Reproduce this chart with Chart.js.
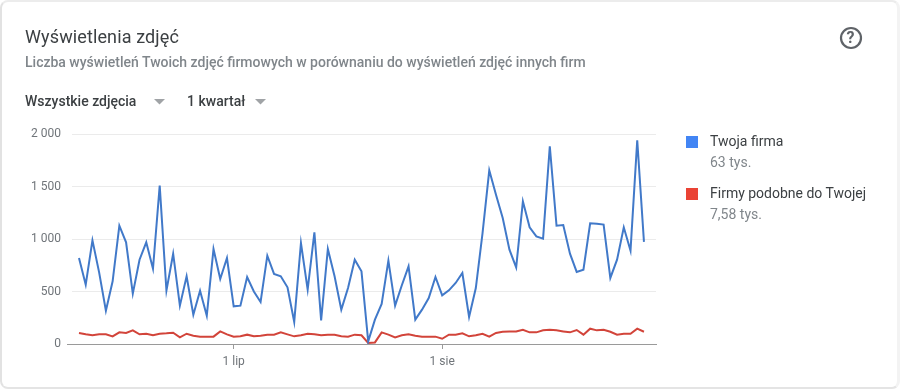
<!DOCTYPE html>
<html lang="pl"><head><meta charset="utf-8">
<style>
html,body{margin:0;padding:0;background:#fff;width:900px;height:389px;overflow:hidden;font-family:Roboto,sans-serif}
#card{position:absolute;left:0;top:0;width:900px;height:389px;box-sizing:border-box;border-style:solid;border-width:2px 3px 2px 2px;border-color:#ececec #f3f3f3 #e4e4e4 #e2e2e2;border-radius:8px}
canvas{position:absolute;left:0;top:0}
.t{position:absolute;white-space:nowrap}
.sq{position:absolute;width:12px;height:12px}
</style>
<script src="https://cdn.jsdelivr.net/npm/chart.js@4"></script>
</head><body>
<div id="card"></div>
<canvas id="c" width="900" height="389"></canvas>
<div class="t" style="left:25px;top:26px;font-size:18px;letter-spacing:.12px;color:#3c4043">Wyświetlenia zdjęć</div>
<div class="t" style="left:25px;top:54px;font-size:14px;font-weight:500;color:#80868b">Liczba wyświetleń Twoich zdjęć firmowych w porównaniu do wyświetleń zdjęć innych firm</div>
<div class="t" style="left:25px;top:93px;font-size:14px;font-weight:500;color:#3c4043">Wszystkie zdjęcia</div>
<div class="t" style="left:187px;top:93px;font-size:14px;font-weight:500;color:#3c4043">1 kwartał</div>
<svg style="position:absolute;left:0;top:0" width="900" height="389">
<path d="M154 99h11l-5.500 5.500z" fill="#a0a3a6"/><path d="M255 99h11l-5.500 5.500z" fill="#a0a3a6"/>
<circle cx="851" cy="38" r="10" fill="none" stroke="#5f6368" stroke-width="2.200"/>
</svg>
<div class="t" style="left:846.500px;top:28px;font-size:16px;font-weight:700;color:#5f6368">?</div>
<div class="sq" style="left:686px;top:136px;background:#4285f4"></div>
<div class="t" id="n0" style="left:710px;top:133px;font-size:14px;color:#3c4043"></div>
<div class="t" id="v0" style="left:710px;top:154px;font-size:14px;color:#80868b"></div>
<div class="sq" style="left:686px;top:188px;background:#ea4335"></div>
<div class="t" id="n1" style="left:710px;top:185px;font-size:14px;color:#3c4043"></div>
<div class="t" id="v1" style="left:710px;top:206px;font-size:14px;color:#80868b"></div>
<script>
const seriesNames = ["Twoja firma", "Firmy podobne do Twojej"];
const seriesTotals = ["63 tys.", "7,58 tys."];
const yourBusiness = [819,565,987,680,317,597,1127,968,479,803,968,717,1508,508,860,365,645,279,508,270,905,619,819,359,365,638,500,400,841,667,645,540,210,962,518,1064,225,905,645,327,533,803,692,25,232,381,794,365,559,740,232,327,438,638,463,511,581,676,257,533,1057,1654,1422,1200,899,730,1359,1111,1025,1003,1883,1127,1133,860,686,708,1149,1146,1137,629,803,1111,889,1940,972];
const similarBusinesses = [105,92,83,92,92,73,111,105,130,92,98,83,98,102,108,63,98,79,70,70,70,120,92,70,73,89,73,79,89,89,111,92,73,83,98,92,83,89,89,73,70,89,83,10,15,111,89,63,83,92,79,70,70,70,50,89,89,102,73,83,98,70,105,117,120,120,136,111,111,130,136,130,120,111,133,89,146,130,136,117,89,98,98,146,117];
const monthTicks = [23, 54];
const monthLabels = ["1 lip", "1 sie"];
const yTicks = [0, 500, 1000, 1500, 2000];
const yLabels = ["0", "500", "1 000", "1 500", "2 000"];

n0.textContent = seriesNames[0]; n1.textContent = seriesNames[1];
v0.textContent = seriesTotals[0]; v1.textContent = seriesTotals[1];
const pts = a => a.map((y, x) => ({x, y}));
new Chart(document.getElementById('c'), {
  type: 'line',
  data: { datasets: [
    { label: seriesNames[0], data: pts(yourBusiness), borderColor: '#4179c9', borderWidth: 2, pointRadius: 0, tension: 0 },
    { label: seriesNames[1], data: pts(similarBusinesses), borderColor: '#d2443a', borderWidth: 2, pointRadius: 0, tension: 0 }
  ]},
  options: {
    responsive: false, animation: false, events: [],
    layout: { padding: { left: 0, right: 244, top: 134, bottom: 0 } },
    plugins: { legend: { display: false }, tooltip: { enabled: false } },
    scales: {
      x: { type: 'linear', min: -1.04, max: 85.79,
        afterBuildTicks: s => { s.ticks = monthTicks.map(value => ({value})); },
        afterFit: s => { s.height = 45; },
        border: { color: '#9a9a9a' },
        grid: { drawOnChartArea: false, drawTicks: true, tickLength: 5, color: '#9a9a9a' },
        ticks: { maxRotation: 0, autoSkip: false, padding: 6, color: '#70757a', font: { family: 'Roboto', size: 12 },
          callback: v => monthLabels[monthTicks.indexOf(v)] }
      },
      y: { min: 0, max: 2000,
        afterBuildTicks: s => { s.ticks = yTicks.map(value => ({value})); },
        afterFit: s => { s.width = 72; },
        border: { display: false },
        grid: { drawTicks: true, tickLength: 5, tickColor: c => c.tick.value === 0 ? '#9a9a9a' : 'rgba(0,0,0,0)', color: c => c.tick.value === 0 ? '#9a9a9a' : '#ebebeb' },
        ticks: { padding: 6, color: '#70757a', font: { family: 'Roboto', size: 12 },
          callback: v => yLabels[yTicks.indexOf(v)] }
      }
    }
  }
});
</script>
</body></html>
